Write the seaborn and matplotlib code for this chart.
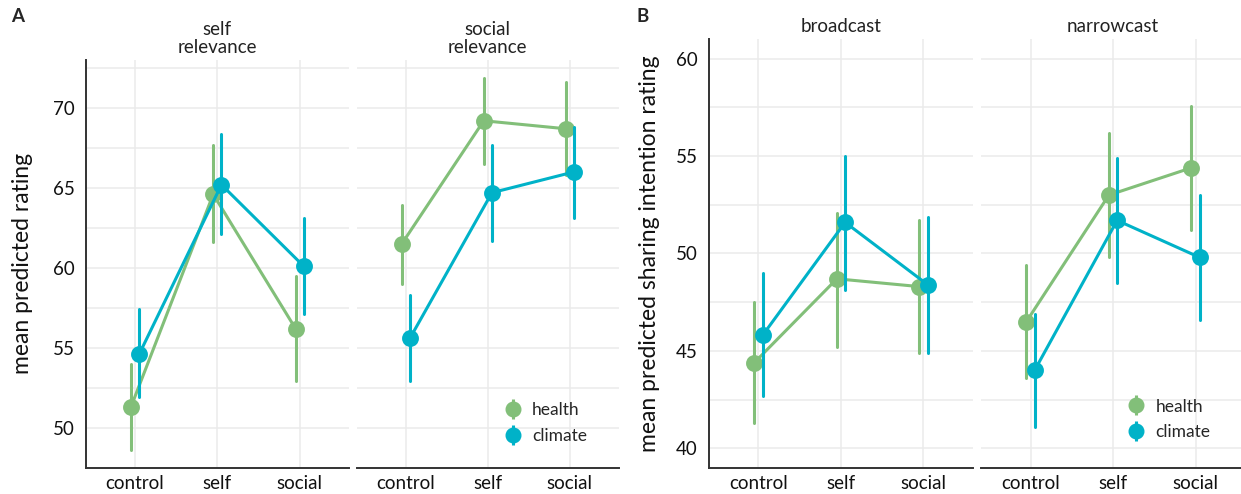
import pandas as pd
import matplotlib
matplotlib.use("Agg")
import matplotlib.pyplot as plt
from matplotlib.lines import Line2D
from matplotlib.legend_handler import HandlerTuple
import seaborn as sns

# --- données ---
conditions = ["control", "self", "social"]
topics = ["health", "climate"]
palette = {"health": "#82BF79", "climate": "#00B2C8"}

# A : relevance
a_self_health_est = [51.3, 64.6, 56.2]
a_self_health_lo = [48.6, 61.6, 52.9]
a_self_health_hi = [54.0, 67.7, 59.5]
a_self_climate_est = [54.6, 65.2, 60.1]
a_self_climate_lo = [51.9, 62.1, 57.1]
a_self_climate_hi = [57.4, 68.4, 63.1]

a_social_health_est = [61.5, 69.2, 68.7]
a_social_health_lo = [59.0, 66.5, 65.8]
a_social_health_hi = [63.9, 71.9, 71.6]
a_social_climate_est = [55.6, 64.7, 66.0]
a_social_climate_lo = [52.9, 61.7, 63.1]
a_social_climate_hi = [58.3, 67.7, 68.8]

# B : sharing
b_broad_health_est = [44.4, 48.7, 48.3]
b_broad_health_lo = [41.3, 45.2, 44.9]
b_broad_health_hi = [47.5, 52.1, 51.7]
b_broad_climate_est = [45.8, 51.6, 48.4]
b_broad_climate_lo = [42.7, 48.1, 44.9]
b_broad_climate_hi = [49.0, 55.0, 51.9]

b_narrow_health_est = [46.5, 53.0, 54.4]
b_narrow_health_lo = [43.6, 49.8, 51.2]
b_narrow_health_hi = [49.4, 56.2, 57.6]
b_narrow_climate_est = [44.0, 51.7, 49.8]
b_narrow_climate_lo = [41.1, 48.5, 46.6]
b_narrow_climate_hi = [46.9, 54.9, 53.0]

records = [
    ("self\nrelevance", "health", a_self_health_lo, a_self_health_est, a_self_health_hi),
    ("self\nrelevance", "climate", a_self_climate_lo, a_self_climate_est, a_self_climate_hi),
    ("social\nrelevance", "health", a_social_health_lo, a_social_health_est, a_social_health_hi),
    ("social\nrelevance", "climate", a_social_climate_lo, a_social_climate_est, a_social_climate_hi),
    ("broadcast", "health", b_broad_health_lo, b_broad_health_est, b_broad_health_hi),
    ("broadcast", "climate", b_broad_climate_lo, b_broad_climate_est, b_broad_climate_hi),
    ("narrowcast", "health", b_narrow_health_lo, b_narrow_health_est, b_narrow_health_hi),
    ("narrowcast", "climate", b_narrow_climate_lo, b_narrow_climate_est, b_narrow_climate_hi),
]

rows = []
for facet, topic, lo, est, hi in records:
    for cond, l, e, h in zip(conditions, lo, est, hi):
        for v in (l, e, h):
            rows.append({"facet": facet, "topic": topic, "condition": cond, "rating": v})
df = pd.DataFrame(rows)

# --- style ---
sns.set_style("white")
plt.rcParams["font.family"] = ["Lato", "DejaVu Sans"]

W, H = 1241, 494
fig = plt.figure(figsize=(W / 100, H / 100), dpi=100)


def px_axes(left, right, top, bottom):
    return fig.add_axes([left / W, 1 - bottom / H, (right - left) / W, (bottom - top) / H])


panels = [
    # facet, (left, right, top, bottom), ylim, premier panneau ?, ancre (ylabel ou légende)
    ("self\nrelevance", (85.7, 349, 60, 467.7), (47.5, 73), True, -0.200),
    ("social\nrelevance", (356.7, 619, 60, 467.7), (47.5, 73), False, (0.522, 0.1096)),
    ("broadcast", (709, 973, 39.3, 467.7), (39.0, 61.0), True, -0.186),
    ("narrowcast", (981, 1245, 39.3, 467.7), (39.0, 61.0), False, (0.516, 0.1125)),
]
ylabels = {"self\nrelevance": "mean predicted rating",
           "broadcast": "mean predicted sharing intention rating"}

for facet, box, ylim, first, anchor in panels:
    ax = px_axes(*box)
    sub = df[df["facet"] == facet]
    # médiane de (lo, est, hi) = est ; min/max = intervalle
    sns.pointplot(data=sub, x="condition", y="rating", hue="topic",
                  order=conditions, hue_order=topics, palette=palette,
                  estimator="median", errorbar=lambda v: (v.min(), v.max()),
                  dodge=0.1, markersize=10.5, linewidth=2.2,
                  err_kws={"linewidth": 2.2}, legend=False, ax=ax)
    ax.set_xlim(-0.6, 2.6)
    ax.set_ylim(*ylim)
    ax.set_yticks(range(int(ylim[0]) // 5 * 5 + 5, int(ylim[1]) + 1, 5))
    ax.set_yticks([t + 2.5 for t in range(int(ylim[0]) // 5 * 5, int(ylim[1]), 5)
                   if ylim[0] <= t + 2.5 <= ylim[1]], minor=True)
    ax.grid(True, which="both", color="#EBEBEB", linewidth=1.1)
    ax.set_axisbelow(True)
    ax.tick_params(length=0, labelsize=13.5, colors="#111111")
    ax.tick_params(axis="y", pad=8)
    ax.tick_params(axis="x", pad=5)
    ax.set_xlabel("")
    ax.set_title(facet, fontsize=13.5, pad=5, linespacing=1.1, color="#222222")
    for s in ["top", "right"]:
        ax.spines[s].set_visible(False)
    ax.spines["bottom"].set_color("#333333")
    ax.spines["bottom"].set_linewidth(1.4)
    if first:
        ax.spines["left"].set_color("#333333")
        ax.spines["left"].set_linewidth(1.4)
        ax.set_ylabel(ylabels[facet], fontsize=16.5, color="#111111")
        ax.yaxis.set_label_coords(anchor, 0.5)
    else:
        ax.spines["left"].set_visible(False)
        ax.set_yticklabels([])
        ax.set_ylabel("")
        handles = []
        for t in topics:
            bar = Line2D([], [], marker="|", color=palette[t], markersize=15,
                         markeredgewidth=2.2, linestyle="none")
            dot = Line2D([], [], marker="o", color=palette[t], markersize=10.5, linestyle="none")
            handles.append((bar, dot))
        ax.legend(handles, topics, handler_map={tuple: HandlerTuple(ndivide=1)},
                  loc="center left", bbox_to_anchor=anchor, frameon=False, borderpad=0,
                  fontsize=12.5, handlelength=1.2, handletextpad=0.5, labelspacing=0.57)

fig.text(18 / W, 1 - 17 / H, "A", fontsize=13.5, fontweight="bold", ha="center", va="center")
fig.text(643 / W, 1 - 17 / H, "B", fontsize=13.5, fontweight="bold", ha="center", va="center")

fig.savefig("out.png", dpi=100)
